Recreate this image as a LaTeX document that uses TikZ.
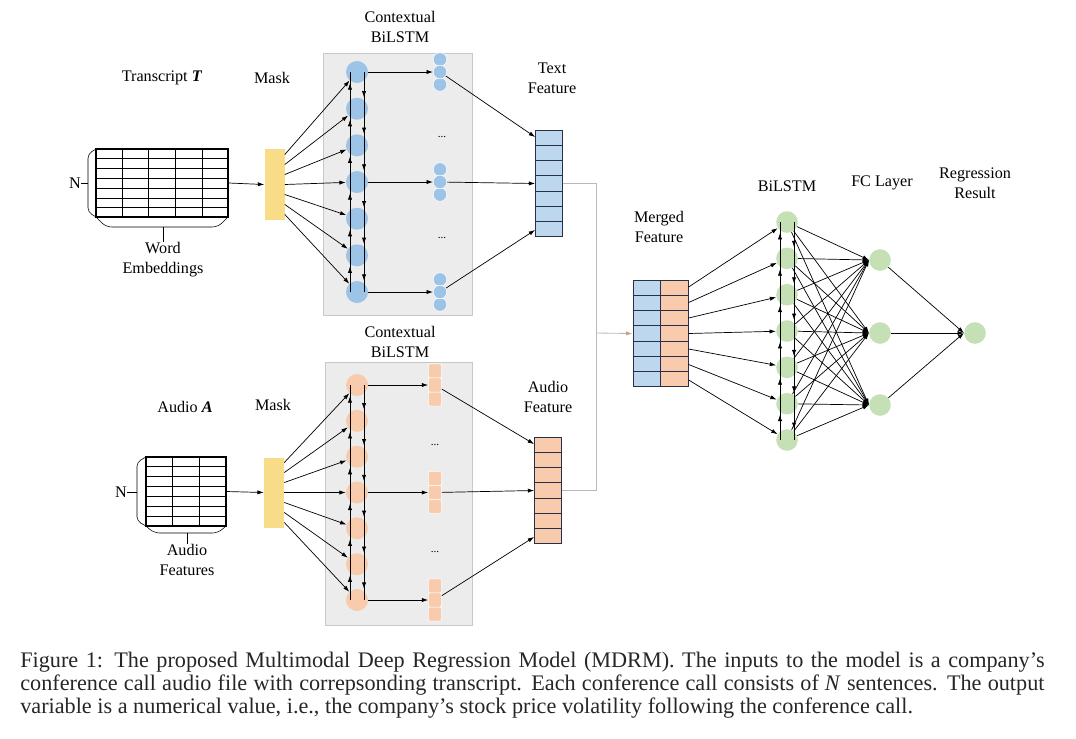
\documentclass[tikz,border=0pt]{standalone}
\usepackage{fontspec}
\setmainfont{Liberation Serif}
\usetikzlibrary{arrows.meta,calc}
\definecolor{lstmblue}{RGB}{157,195,230}
\definecolor{featblue}{RGB}{189,215,238}
\definecolor{lstmorange}{RGB}{248,203,173}
\definecolor{lstmgreen}{RGB}{197,224,180}
\definecolor{maskyellow}{RGB}{248,220,135}
\definecolor{panelgray}{RGB}{236,236,236}
\definecolor{panelline}{RGB}{200,200,200}
\definecolor{featline}{RGB}{40,48,72}
\definecolor{linkgray}{RGB}{185,185,185}
\tikzset{
  lbl/.style={font=\fontsize{11.5}{14.2}\selectfont, align=center, inner sep=0pt},
  arr/.style={-{Latex[length=4.5pt,width=3pt]}, line width=0.5pt},
  cellb/.style={circle, fill=lstmblue, minimum size=0.55cm, inner sep=0pt},
  cello/.style={circle, fill=lstmorange, minimum size=0.55cm, inner sep=0pt},
  cellg/.style={circle, fill=lstmgreen, minimum size=0.54cm, inner sep=0pt},
  subb/.style={circle, fill=lstmblue, draw=white, minimum size=0.34cm, inner sep=0pt},
  subo/.style={rectangle, rounded corners=1.5pt, fill=lstmorange, draw=white, minimum width=0.33cm, minimum height=0.36cm, inner sep=0pt},
  maskbar/.style={rectangle, fill=maskyellow, minimum width=0.5cm, minimum height=1.75cm, inner sep=0pt},
  panel/.style={fill=panelgray, draw=panelline},
  featbox/.style={rectangle, draw=featline, line width=0.7pt, minimum width=0.67cm, minimum height=2.65cm, inner sep=0pt},
  emb/.style={rectangle, draw, line width=0.8pt, inner sep=0pt},
  link/.style={draw=linkgray, line width=0.6pt},
  dots/.style={font=\fontsize{8}{8}\selectfont, inner sep=0pt},
}
\begin{document}
\begin{tikzpicture}[x=0.025cm, y=-0.025cm]
  \useasboundingbox (0,0) rectangle (1076,738);
  % grey panels behind the contextual BiLSTMs
  \draw[panel] (323,53) rectangle (472,315);
  \draw[panel] (325,362) rectangle (472,625);

  % labels
  \node[lbl] (lt) at (162,78) {Transcript \textbf{\textit{T}}};
  \node[lbl] (lm1) at (272,78) {Mask};
  \node[lbl] (lc1) at (400,27) {Contextual\\BiLSTM};
  \node[lbl] (ltf) at (552,78) {Text\\Feature};
  \node[lbl] (la) at (185,407) {Audio \textbf{\textit{A}}};
  \node[lbl] (lm2) at (273,405) {Mask};
  \node[lbl] (lc2) at (400,342) {Contextual\\BiLSTM};
  \node[lbl] (laf) at (548,397) {Audio\\Feature};
  \node[lbl] (lmf) at (659,227) {Merged\\Feature};
  \node[lbl] (lb) at (787,186) {BiLSTM};
  \node[lbl] (lfc) at (882,183) {FC Layer};
  \node[lbl] (lr) at (975,183) {Regression\\Result};

  % word embeddings
  \node[emb, minimum width=3.3cm, minimum height=1.7cm] (we) at (162,183) {};
  \foreach \k in {1,...,6}
    \draw ($(we.north west)!\k/7!(we.south west)$) -- ($(we.north east)!\k/7!(we.south east)$);
  \foreach \k in {1,...,4}
    \draw ($(we.north west)!\k/5!(we.north east)$) -- ($(we.south west)!\k/5!(we.south east)$);
  \draw[rounded corners=3pt] (96,149) -- (88,154) -- (88,212) -- (96,217);
  \draw[rounded corners=4pt] (96,217) -- (106,227) -- (218,227) -- (228,217);
  \node[lbl] (n1) at (75,183) {N};
  \node[lbl] (lwe) at (163,260) {Word\\Embeddings};
  \coordinate (bw) at (163,227);
  \draw (n1.east) -- (88,183);
  \draw (bw) -- (lwe.north);

  % audio features
  \node[emb, minimum width=2cm, minimum height=1.725cm] (au) at (186,491.5) {};
  \foreach \k in {1,...,6}
    \draw ($(au.north west)!\k/7!(au.south west)$) -- ($(au.north east)!\k/7!(au.south east)$);
  \foreach \k in {1,2}
    \draw ($(au.north west)!\k/3!(au.north east)$) -- ($(au.south west)!\k/3!(au.south east)$);
  \draw[rounded corners=3pt] (146,457) -- (137,462) -- (137,521) -- (146,526);
  \draw[rounded corners=4pt] (146,526) -- (154,533) -- (218,533) -- (226,526);
  \node[lbl] (n2) at (121,492) {N};
  \node[lbl] (lau) at (187,560) {Audio\\Features};
  \coordinate (ba) at (187,533);
  \draw (n2.east) -- (137,492);
  \draw (ba) -- (lau.north);

  % masks
  \node[maskbar] (m1) at (274.5,184.5) {};
  \node[maskbar] (m2) at (274,492.5) {};
  \draw[arr] (we.east) -- (m1.west);
  \draw[arr] (au.east) -- (m2.west);

  % contextual BiLSTM cells
  \foreach \i/\y in {1/72,2/108.7,3/145.3,4/182,5/218.7,6/255.3,7/292}
    \node[cellb] (t\i) at (357,\y) {};
  \foreach \i/\y in {1/385,2/420.8,3/456.7,4/492.5,5/528.3,6/564.2,7/600}
    \node[cello] (a\i) at (357,\y) {};
  \foreach \i/\y in {1/222,2/258.3,3/294.7,4/331,5/367.3,6/403.7,7/440}
    \node[cellg] (g\i) at (787,\y) {};

  % sentence outputs
  \foreach \s/\y in {1/72,2/182,3/292} {
    \node[subb] (s\s a) at (440,{\y-12.5}) {};
    \node[subb] (s\s c) at (440,{\y+12.5}) {};
    \node[subb] (s\s b) at (440,\y) {};
  }
  \foreach \s/\y in {1/385,2/492.5,3/600} {
    \node[subo] (r\s a) at (435,{\y-14}) {};
    \node[subo] (r\s c) at (435,{\y+14}) {};
    \node[subo] (r\s b) at (435,\y) {};
  }
  \node[dots] (d1) at (442,137) {...};
  \node[dots] (d2) at (442,238) {...};
  \node[dots] (d3) at (435,445) {...};
  \node[dots] (d4) at (435,552) {...};

  % features
  \node[featbox, fill=featblue] (tf) at (549,183.5) {};
  \node[featbox, fill=lstmorange] (af) at (548,490.5) {};
  \node[featbox, fill=featblue, minimum width=0.675cm] (mfb) at (646.5,333.5) {};
  \node[featbox, fill=lstmorange, minimum width=0.7cm] (mfo) at (674,333.5) {};
  \foreach \f in {tf,af,mfb,mfo}
    \foreach \k in {1,...,6}
      \draw[featline, line width=0.6pt] ($(\f.north west)!\k/7!(\f.south west)$) -- ($(\f.north east)!\k/7!(\f.south east)$);

  % FC layer and result
  \node[cellg] (f1) at (880,260) {};
  \node[cellg] (f2) at (880,333) {};
  \node[cellg] (f3) at (880,405) {};
  \node[cellg] (res) at (975,333) {};

  % masks to cells
  \foreach \i in {1,...,7} {
    \draw[arr] ([yshift={(4-\i)*7.1pt}]m1.east) -- (t\i);
    \draw[arr] ([yshift={(4-\i)*7.1pt}]m2.east) -- (a\i);
    \draw[arr] ([yshift={(4-\i)*11pt}]mfo.east) -- (g\i);
  }

  % both directions
  \foreach \c in {t,a,g} {
    \draw[line width=0.5pt] ([xshift=-5pt]\c1.center) -- ([xshift=-5pt]\c7.center);
    \draw[line width=0.5pt] ([xshift=5pt]\c1.center) -- ([xshift=5pt]\c7.center);
    \foreach \i/\j in {1/2,2/3,3/4,4/5,5/6,6/7} {
      \draw[arr] ([xshift=-5pt]\c\j.north) -- ([xshift=-5pt]\c\i.south);
      \draw[arr] ([xshift=5pt]\c\i.south) -- ([xshift=5pt]\c\j.north);
    }
  }

  % cells to sentence outputs
  \draw[arr] (t1) -- (s1b);
  \draw[arr] (t4) -- (s2b);
  \draw[arr] (t7) -- (s3b);
  \draw[arr] (a1) -- (r1b);
  \draw[arr] (a4) -- (r2b);
  \draw[arr] (a7) -- (r3b);
  \draw[arr] (s1b) -- ([yshift=-5pt]tf.north west);
  \draw[arr] (s2b) -- (tf.west);
  \draw[arr] (s3b) -- ([yshift=5pt]tf.south west);
  \draw[arr] (r1b) -- ([yshift=-5pt]af.north west);
  \draw[arr] (r2b) -- (af.west);
  \draw[arr] (r3b) -- ([yshift=5pt]af.south west);

  % merge
  \coordinate (jn) at (596,333);
  \draw[link] (tf.east) -| (jn);
  \draw[link] (af.east) -| (jn);
  \draw[link, -{Latex[length=4.5pt,width=3pt,color=lstmorange!80!black]}] (jn) -- (mfb.west);

  % fully connected
  \foreach \i in {1,...,7}
    \foreach \j in {1,2,3}
      \draw[arr] (g\i) -- (f\j.west);
  \foreach \j in {1,2,3}
    \draw[arr] (f\j) -- (res.west);

  % caption
  \node[anchor=north west, text width=25.6cm, align=justify, inner sep=0pt,
        font=\fontsize{15.8}{16.4}\selectfont, text=black!85] (cap) at (20,652)
    {Figure 1: The proposed Multimodal Deep Regression Model (MDRM). The inputs to the model is a company’s\linebreak
     conference call audio file with correpsonding transcript. Each conference call consists of \textit{N} sentences. The output\linebreak
     variable is a numerical value, i.e., the company’s stock price volatility following the conference call.};
\end{tikzpicture}
\end{document}
